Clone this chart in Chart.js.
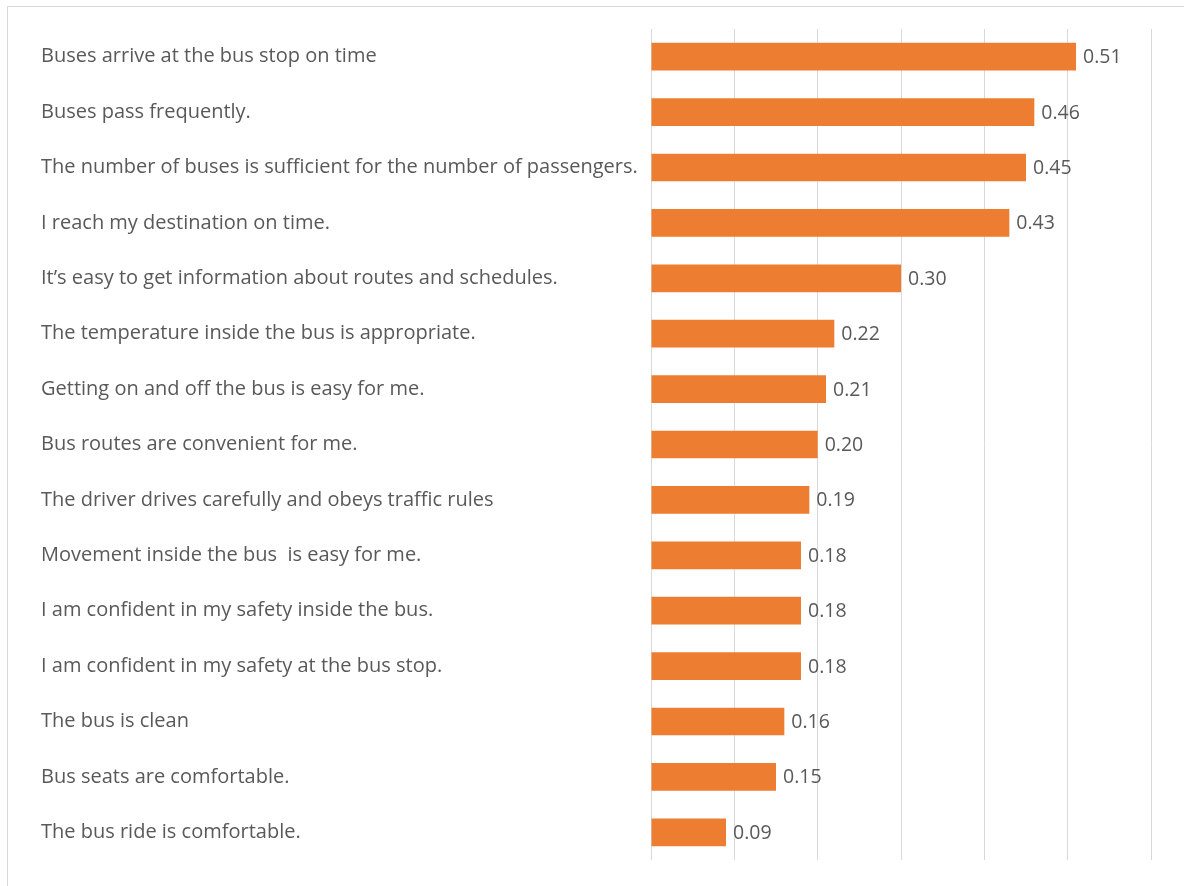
<!DOCTYPE html>
<html lang="en">
<head>
    <meta charset="UTF-8">
    <title>Bus service satisfaction</title>
    <script src="https://cdn.jsdelivr.net/npm/chart.js"></script>
    <style>
        body { margin: 0; background: #fff; overflow: hidden; }
        #frame { position: absolute; left: 7px; top: 6px; width: 1300px; height: 1000px; border: 1px solid #d9d9d9; }
        #wrap { position: absolute; left: 0; top: 0; width: 1184px; height: 886px; }
    </style>
</head>
<body>
<div id="frame"></div>
<div id="wrap"><canvas id="chart"></canvas></div>
<script>
const categories = [
    'Buses arrive at the bus stop on time',
    'Buses pass frequently.',
    'The number of buses is sufficient for the number of passengers.',
    'I reach my destination on time.',
    'It\u2019s easy to get information about routes and schedules.',
    'The temperature inside the bus is appropriate.',
    'Getting on and off the bus is easy for me.',
    'Bus routes are convenient for me.',
    'The driver drives carefully and obeys traffic rules',
    'Movement inside the bus  is easy for me.',
    'I am confident in my safety inside the bus.',
    'I am confident in my safety at the bus stop.',
    'The bus is clean',
    'Bus seats are comfortable.',
    'The bus ride is comfortable.'
];
const values = [0.51, 0.46, 0.45, 0.43, 0.30, 0.22, 0.21, 0.20, 0.19, 0.18, 0.18, 0.18, 0.16, 0.15, 0.09];

const FONT = '"Open Sans", sans-serif';
const TEXT = '#595959';

// value labels at the end of each bar
const barLabels = {
    id: 'barLabels',
    afterDatasetsDraw(chart) {
        const ctx = chart.ctx;
        const meta = chart.getDatasetMeta(0);
        ctx.save();
        ctx.font = '19.5px ' + FONT;
        ctx.fillStyle = TEXT;
        ctx.textBaseline = 'middle';
        ctx.textAlign = 'left';
        meta.data.forEach((bar, i) => {
            ctx.fillText(values[i].toFixed(2), bar.x + 7, bar.y + 1);
        });
        ctx.restore();
    }
};

new Chart(document.getElementById('chart'), {
    type: 'bar',
    data: {
        labels: categories,
        datasets: [{
            data: values,
            backgroundColor: '#ED7D31',
            categoryPercentage: 1,
            barPercentage: 0.5
        }]
    },
    options: {
        indexAxis: 'y',
        responsive: true,
        maintainAspectRatio: false,
        animation: false,
        layout: {padding: {left: 41, right: 33, top: 29, bottom: 26}},
        plugins: {legend: {display: false}, tooltip: {enabled: false}},
        scales: {
            x: {
                min: 0,
                max: 0.6,
                ticks: {display: false, stepSize: 0.1},
                grid: {color: '#d9d9d9', drawTicks: false},
                border: {display: false},
                afterFit: (s) => { s.height = 0; }
            },
            y: {
                ticks: {
                    crossAlign: 'far',
                    color: TEXT,
                    padding: 0,
                    font: {family: FONT, size: 20}
                },
                grid: {display: false, drawTicks: false},
                border: {display: false},
                afterFit: (s) => { s.width = 610; }
            }
        }
    },
    plugins: [barLabels]
});
</script>
</body>
</html>
